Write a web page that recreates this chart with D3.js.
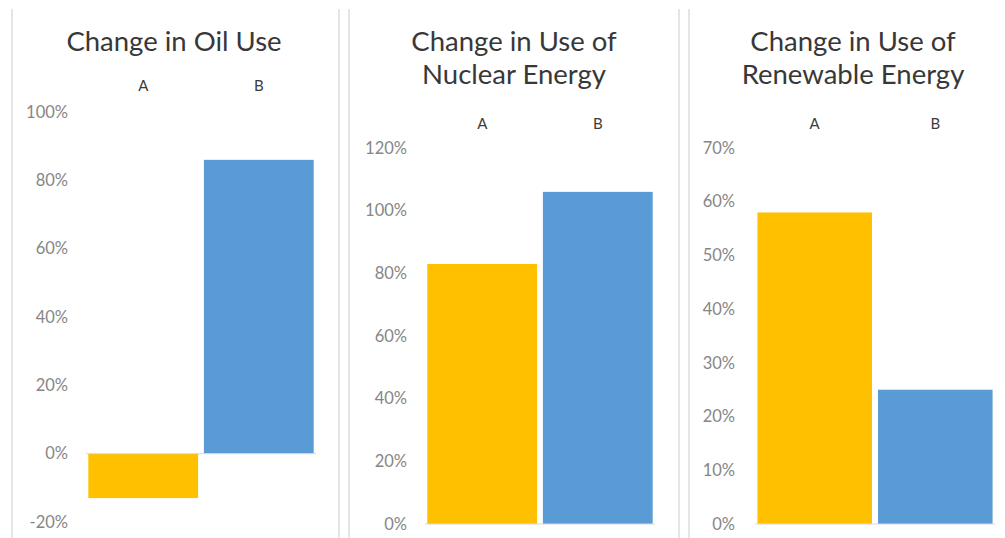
<!DOCTYPE html>
<html>
<head>
<meta charset="utf-8">
<script src="https://cdn.jsdelivr.net/npm/d3@7"></script>
<style>
  body { margin: 0; background: #fff; }
  text { font-family: Lato, "Open Sans", sans-serif; }
</style>
</head>
<body>
<div id="chart"></div>
<script>
// values (percent)
const categories = ["A", "B"];
const oilValues = [-13, 86];
const nuclearValues = [83, 106];
const renewableValues = [58, 25];

const oilTicks = [-20, 0, 20, 40, 60, 80, 100];
const nuclearTicks = [0, 20, 40, 60, 80, 100, 120];
const renewableTicks = [0, 10, 20, 30, 40, 50, 60, 70];

const oilTitle = ["Change in Oil Use"];
const nuclearTitle = ["Change in Use of", "Nuclear Energy"];
const renewableTitle = ["Change in Use of", "Renewable Energy"];

const barColors = ["#FFC000", "#5B9BD5"];

const width = 1005;
const height = 538;

const svg = d3.select("#chart")
  .append("svg")
  .attr("width", width)
  .attr("height", height);

// panel borders
const borderX = [12, 339, 349, 679, 689];
svg.selectAll(".border")
  .data(borderX)
  .enter()
  .append("line")
  .attr("class", "border")
  .attr("x1", d => d)
  .attr("x2", d => d)
  .attr("y1", 9)
  .attr("y2", height)
  .attr("stroke", "#dcdcdc")
  .attr("stroke-width", 1.5);

createPanel({
  title: oilTitle, values: oilValues, ticks: oilTicks,
  xRange: [86, 316], yRange: [522, 112], titleX: 174, titleY: 51,
  catY: 91, labelX: 68
});
createPanel({
  title: nuclearTitle, values: nuclearValues, ticks: nuclearTicks,
  xRange: [425, 655], yRange: [524, 148], titleX: 514, titleY: 51,
  catY: 129, labelX: 407
});
createPanel({
  title: renewableTitle, values: renewableValues, ticks: renewableTicks,
  xRange: [755, 995], yRange: [524, 148], titleX: 853, titleY: 51,
  catY: 129, labelX: 735
});

function createPanel(opt){
  const g = svg.append("g");

  const x = d3.scaleBand()
    .domain(categories)
    .range(opt.xRange)
    .paddingInner(0.05)
    .paddingOuter(0.02);

  const y = d3.scaleLinear()
    .domain(d3.extent(opt.ticks))
    .range(opt.yRange);

  // title
  const title = g.append("text")
    .attr("x", opt.titleX)
    .attr("y", opt.titleY)
    .attr("text-anchor", "middle")
    .attr("fill", "#383838")
    .attr("font-size", "27.5px");
  opt.title.forEach((t, i) => {
    title.append("tspan")
      .attr("x", opt.titleX)
      .attr("dy", i === 0 ? 0 : 33)
      .text(t);
  });

  // category labels on top
  g.selectAll(".cat")
    .data(categories)
    .enter()
    .append("text")
    .attr("x", d => x(d) + x.bandwidth() / 2)
    .attr("y", opt.catY)
    .attr("text-anchor", "middle")
    .attr("fill", "#3c3c3c")
    .attr("font-size", "15px")
    .text(d => d);

  // y axis labels only
  const yAxis = d3.axisLeft(y)
    .tickValues(opt.ticks)
    .tickSize(0)
    .tickPadding(0)
    .tickFormat(d => d + "%");
  const ax = g.append("g")
    .attr("transform", `translate(${opt.labelX},0)`)
    .call(yAxis);
  ax.select(".domain").remove();
  ax.selectAll("text")
    .attr("fill", "#868686")
    .attr("font-size", "16.5px")
    .attr("font-family", "Lato, sans-serif");

  // bars
  g.selectAll(".bar")
    .data(opt.values)
    .enter()
    .append("rect")
    .attr("class", "bar")
    .attr("x", (d, i) => x(categories[i]))
    .attr("width", x.bandwidth())
    .attr("y", d => y(Math.max(0, d)))
    .attr("height", d => Math.abs(y(d) - y(0)))
    .attr("fill", (d, i) => barColors[i]);

  // zero line
  g.append("line")
    .attr("x1", opt.xRange[0])
    .attr("x2", opt.xRange[1])
    .attr("y1", y(0))
    .attr("y2", y(0))
    .attr("stroke", "#d9d9d9")
    .attr("stroke-width", 1);
}
</script>
</body>
</html>
